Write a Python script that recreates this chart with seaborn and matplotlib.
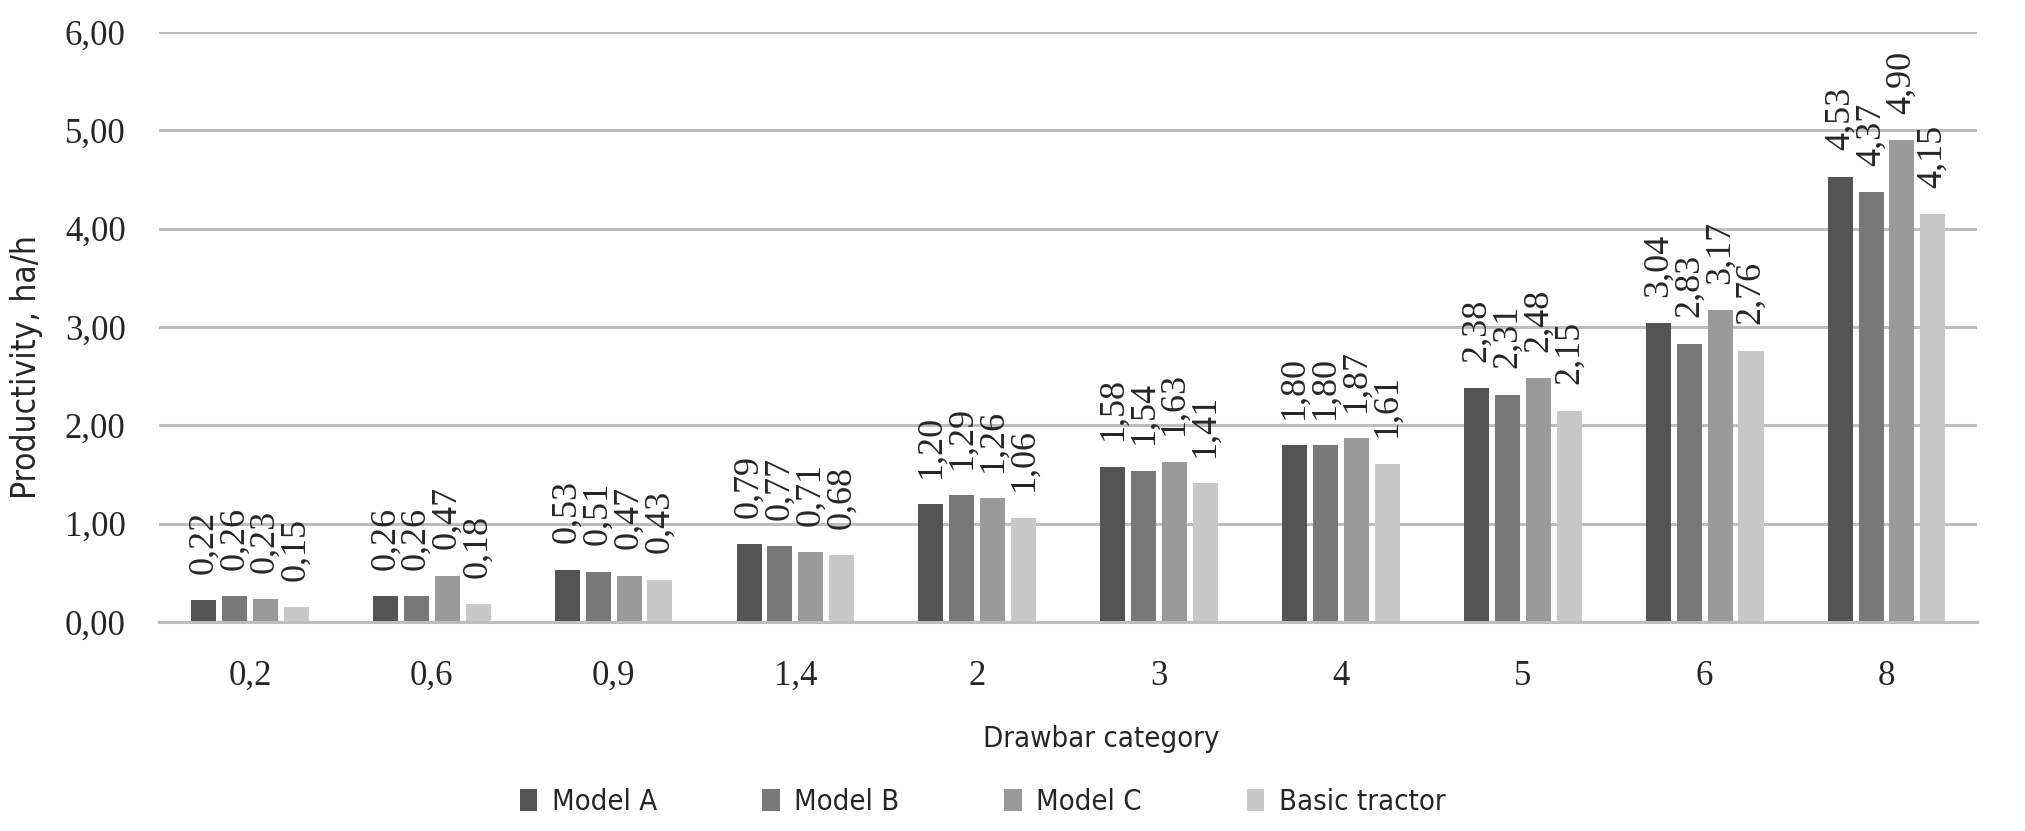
import matplotlib
matplotlib.use('Agg')
import matplotlib.pyplot as plt
import pandas as pd
import seaborn as sns

categories = ['0,2', '0,6', '0,9', '1,4', '2', '3', '4', '5', '6', '8']
series = ['Model A', 'Model B', 'Model C', 'Basic tractor']
model_a = [0.22, 0.26, 0.53, 0.79, 1.20, 1.58, 1.80, 2.38, 3.04, 4.53]
model_b = [0.26, 0.26, 0.51, 0.77, 1.29, 1.54, 1.80, 2.31, 2.83, 4.37]
model_c = [0.23, 0.47, 0.47, 0.71, 1.26, 1.63, 1.87, 2.48, 3.17, 4.90]
basic = [0.15, 0.18, 0.43, 0.68, 1.06, 1.41, 1.61, 2.15, 2.76, 4.15]

colors = ['#545454', '#787878', '#9a9a9a', '#c8c8c8']

rows = []
for name, values in zip(series, [model_a, model_b, model_c, basic]):
    for cat, v in zip(categories, values):
        rows.append(dict(category=cat, series=name, value=v))
df = pd.DataFrame(rows)

sns.set_style('white')
serif = ['Liberation Serif', 'DejaVu Serif']
sans = ['DejaVu Sans']

fig = plt.figure(figsize=(20.25, 8.31), dpi=100)
ax = fig.add_axes([0.0785, 0.2515, 0.898, 0.710])

sns.barplot(data=df, x='category', y='value', hue='series', order=categories,
            hue_order=series, palette=colors, width=0.68, gap=0.19,
            linewidth=0, saturation=1, ax=ax, legend=True)

# value labels, rotated, comma as decimal sign
for container in ax.containers:
    for bar in container:
        h = bar.get_height()
        ax.annotate(f'{h:.2f}'.replace('.', ','),
                    (bar.get_x() + bar.get_width() / 2, h),
                    xytext=(0, 19), textcoords='offset points',
                    rotation=90, ha='center', va='bottom',
                    fontsize=26, family=serif, clip_on=False)

ax.set_ylim(0, 6)
ax.set_xlim(-0.5, len(categories) - 0.5)
yticks = [0, 1, 2, 3, 4, 5, 6]
ax.set_yticks(yticks)
ax.set_yticklabels([f'{t:.2f}'.replace('.', ',') for t in yticks], family=serif, fontsize=25)
ax.set_xticks(range(len(categories)))
ax.set_xticklabels(categories, family=serif, fontsize=25)
ax.tick_params(axis='y', length=0, pad=24)
ax.tick_params(axis='x', length=0, pad=27)

ax.yaxis.grid(True, color='#bdbdbd', linewidth=2.2)
ax.set_axisbelow(True)
for side in ['left', 'right', 'top']:
    ax.spines[side].set_visible(False)
ax.spines['bottom'].set_color('#bdbdbd')
ax.spines['bottom'].set_linewidth(2.2)

ax.set_ylabel('Productivity, ha/h', family=sans, fontstretch='condensed', fontsize=24)
ax.yaxis.set_label_coords(-0.064, 0.432)
ax.set_xlabel('Drawbar category', family=sans, fontstretch='condensed', fontsize=21)
ax.xaxis.set_label_coords(0.518, -0.175)

handles, labels = ax.get_legend_handles_labels()
ax.legend(handles, labels, loc='center', bbox_to_anchor=(0.453, -0.305), ncol=4,
          frameon=False, handlelength=0.6, handleheight=0.8, handletextpad=0.5,
          columnspacing=3.6, prop=dict(family=sans, stretch='condensed', size=21))

fig.savefig('out.png', dpi=100)
